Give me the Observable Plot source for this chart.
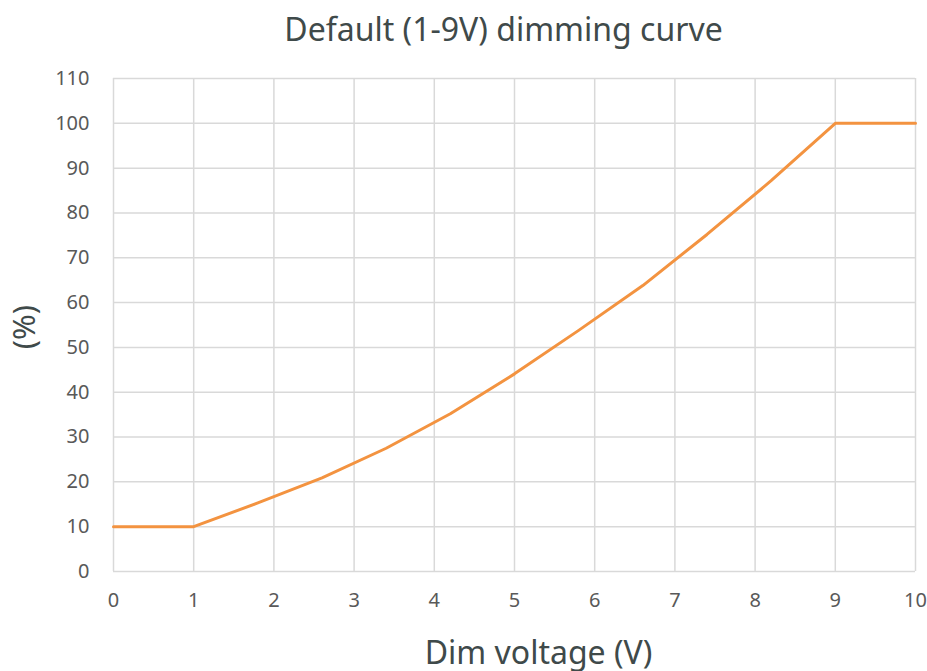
<!DOCTYPE html>
<html>
<head>
<meta charset="utf-8">
<script src="https://cdn.jsdelivr.net/npm/d3@7"></script>
<script src="https://cdn.jsdelivr.net/npm/@observablehq/plot@0.6"></script>
<style>
  html, body { margin: 0; padding: 0; background: #fff; }
  #chart svg { display: block; }
</style>
</head>
<body>
<div id="chart"></div>
<script>
const voltage = [0, 1, 1.8, 2.6, 3.4, 4.2, 5.0, 5.8, 6.6, 7.4, 8.2, 9, 10];
const level = [10, 10, 15.3, 20.9, 27.5, 35.2, 44.1, 53.8, 63.8, 75.2, 87.2, 100, 100];
const xTicks = [0, 1, 2, 3, 4, 5, 6, 7, 8, 9, 10];
const yTicks = [0, 10, 20, 30, 40, 50, 60, 70, 80, 90, 100, 110];
const titleText = "Default (1-9V) dimming curve";
const xLabel = "Dim voltage (V)";
const yLabel = "(%)";

const data = voltage.map((v, i) => ({v, p: level[i]}));
const font = "'Noto Sans', 'Open Sans', sans-serif";

const chart = Plot.plot({
  width: 927,
  height: 671,
  marginLeft: 113,
  marginRight: 12,
  marginTop: 78,
  marginBottom: 100,
  style: {fontFamily: font, fontSize: "20px", color: "#595959", background: "#fff"},
  x: {domain: [0, 10], ticks: xTicks, label: null},
  y: {domain: [0, 110], ticks: yTicks, label: null},
  marks: [
    Plot.gridX(xTicks, {stroke: "#d9d9d9", strokeOpacity: 1, strokeWidth: 1.5}),
    Plot.gridY(yTicks, {stroke: "#d9d9d9", strokeOpacity: 1, strokeWidth: 1.5}),
    Plot.axisX(xTicks, {tickSize: 0, tickPadding: 21, fontSize: 20, fill: "#595959"}),
    Plot.axisY(yTicks, {tickSize: 0, tickPadding: 24, fontSize: 20, fill: "#595959"}),
    Plot.line(data, {x: "v", y: "p", stroke: "#f39340", strokeWidth: 3, strokeLinejoin: "round"}),
    Plot.text([titleText], {frameAnchor: "top", dy: -60, dx: -11, fontSize: 32, fill: "#3f4a4a", fontFamily: font}),
    Plot.text([xLabel], {frameAnchor: "bottom", dy: 92, dx: 24, fontSize: 32, fill: "#3f4a4a", fontFamily: font}),
    Plot.text([yLabel], {frameAnchor: "left", textAnchor: "middle", dx: -88, dy: 2, rotate: -90, fontSize: 31, fill: "#3f4a4a", fontFamily: font})
  ]
});
document.getElementById("chart").appendChild(chart);
</script>
</body>
</html>
